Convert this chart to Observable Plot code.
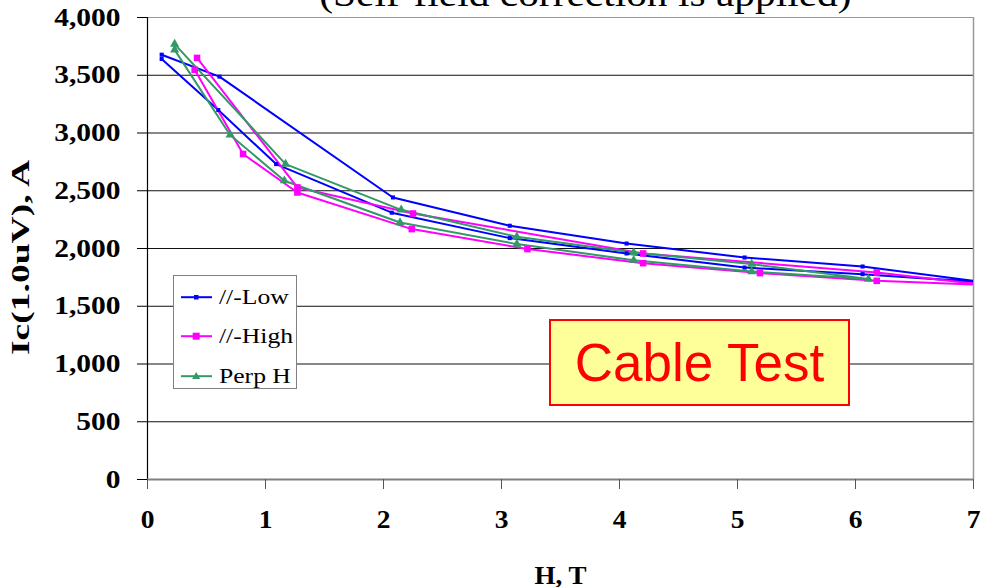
<!DOCTYPE html>
<html>
<head>
<meta charset="utf-8">
<script src="https://cdn.jsdelivr.net/npm/d3@7"></script>
<script src="https://cdn.jsdelivr.net/npm/@observablehq/plot@0.6"></script>
<style>
  html, body { margin: 0; padding: 0; background: #fff; overflow: hidden; }
  #wrap { position: relative; width: 981px; height: 587px; }
  #title { position: absolute; left: 0; width: 981px; top: -24px; text-align: center;
           font-family: "Liberation Serif", "Times New Roman", serif; font-size: 36px; line-height: 36px;
           white-space: nowrap; }
  #title span { display: inline-block; transform: scaleX(1.15); transform-origin: center; margin-left: 190px; }
  #legend { position: absolute; left: 173px; top: 275px; width: 124px; height: 114px;
            border: 1px solid #808080; background: #fff; box-sizing: border-box; }
  .lrow { position: absolute; left: 7px; height: 24px; display: flex; align-items: center; }
  .lrow span { font-family: "Liberation Serif", "Times New Roman", serif; font-size: 21px; margin-left: 7px;
               display: inline-block; transform: scaleX(1.22); transform-origin: left center; white-space: nowrap; }
  #note { position: absolute; left: 549px; top: 319px; width: 301px; height: 87px; box-sizing: border-box;
          background: #FFFF99; border: 2px solid #FF0000; display: flex; align-items: center; justify-content: center;
          font-family: "Liberation Sans", Arial, sans-serif; font-size: 53px; color: #FF0000; }
</style>
</head>
<body>
<div id="wrap">
  <div id="title"><span>(Self-field correction is applied)</span></div>
</div>
<script>
// ---- data ----
const seriesNames = ["//-Low", "//-High", "Perp H"];
const seriesColors = ["#0000FF", "#FF00FF", "#339966"];

// //-Low : field ramped up (lower branch), then down (upper branch)
const lowH  = [0.12, 0.60, 1.09, 2.07, 3.07, 4.06, 5.06, 6.06, 7.10, 6.06, 5.06, 4.06, 3.07, 2.08, 0.61, 0.12];
const lowIc = [3641, 3199, 2731, 2310, 2090, 1957, 1835, 1778, 1706, 1844, 1922, 2043, 2197, 2442, 3488, 3678];

// //-High
const highH  = [0.40, 0.81, 1.27, 2.24, 3.22, 4.20, 5.19, 6.18, 7.10, 6.18, 4.20, 2.25, 1.27, 0.42];
const highIc = [3548, 2818, 2485, 2168, 1995, 1873, 1787, 1720, 1684, 1792, 1957, 2303, 2529, 3650];

// Perp H
const perpH  = [0.23, 0.70, 1.16, 2.14, 3.13, 4.12, 5.12, 6.11, 5.12, 4.12, 3.13, 2.15, 1.17, 0.23];
const perpIc = [3720, 2983, 2587, 2225, 2038, 1899, 1801, 1735, 1865, 1965, 2101, 2335, 2731, 3770];

const xTicks = [0, 1, 2, 3, 4, 5, 6, 7];
const yTicks = [0, 500, 1000, 1500, 2000, 2500, 3000, 3500, 4000];
const xDomain = [0, 7];
const yDomain = [0, 4000];

const rows = [
  ...lowH.map((h, i) => ({series: seriesNames[0], H: h, Ic: lowIc[i]})),
  ...highH.map((h, i) => ({series: seriesNames[1], H: h, Ic: highIc[i]})),
  ...perpH.map((h, i) => ({series: seriesNames[2], H: h, Ic: perpIc[i]}))
];
const bySeries = name => rows.filter(d => d.series === name);

const serif = "'Liberation Serif', 'Times New Roman', serif";

const chart = Plot.plot({
  width: 981,
  height: 587,
  marginLeft: 147,
  marginRight: 8,
  marginTop: 17,
  marginBottom: 108,
  style: {fontFamily: serif, background: "transparent", color: "#000"},
  x: {domain: xDomain},
  y: {domain: yDomain},
  color: {domain: seriesNames, range: seriesColors},
  marks: [
    Plot.ruleY(yTicks.filter(t => t > yDomain[0] && t < yDomain[1]), {stroke: "#111", strokeWidth: 1}),
    Plot.ruleY([yDomain[1]], {stroke: "#999", strokeWidth: 1.2}),
    Plot.ruleX([xDomain[1]], {stroke: "#999", strokeWidth: 1.5}),
    Plot.line(rows, {x: "H", y: "Ic", z: "series", stroke: "series", strokeWidth: 2, clip: true}),
    Plot.dot(bySeries(seriesNames[0]), {x: "H", y: "Ic", fill: seriesColors[0], symbol: "square", r: 2.3, clip: true}),
    Plot.dot(bySeries(seriesNames[1]), {x: "H", y: "Ic", fill: seriesColors[1], symbol: "square", r: 3.7, clip: true}),
    Plot.dot(bySeries(seriesNames[2]), {x: "H", y: "Ic", fill: seriesColors[2], symbol: "triangle", r: 3.4, clip: true}),
    Plot.ruleX([xDomain[0]], {stroke: "#000", strokeWidth: 1.2}),
    Plot.ruleY([yDomain[0]], {stroke: "#808080", strokeWidth: 2}),
    Plot.axisY({ticks: yTicks, tickFormat: d3.format(","), tickSize: 10, tickPadding: 17,
                fontSize: 25, fontWeight: "bold", fontFamily: serif,
                label: "Ic(1.0uV), A", labelAnchor: "center", labelArrow: "none", labelOffset: 136}),
    Plot.axisX({ticks: xTicks, tickFormat: d3.format("d"), tickSize: 10, tickPadding: 21,
                fontSize: 25, fontWeight: "bold", fontFamily: serif, stroke: "#555",
                label: "H, T", labelAnchor: "center", labelArrow: "none", labelOffset: 104})
  ]
});

const wrap = document.getElementById("wrap");
wrap.appendChild(chart);

// horizontal stretch of the serif texts, as in the reference rendering
function stretch(sel, factor, fixed) {
  chart.querySelectorAll(sel).forEach(t => {
    const w = t.getComputedTextLength();
    t.setAttribute("textLength", fixed ?? (w * factor));
    t.setAttribute("lengthAdjust", "spacingAndGlyphs");
  });
}
stretch('g[aria-label="y-axis tick label"] text', 1.18);
stretch('g[aria-label="x-axis tick label"] text', 1.1);
stretch('g[aria-label="y-axis label"] text', 1, 195);
stretch('g[aria-label="x-axis label"] text', 1.08);
// the reference's y label sits slightly below the frame centre
const yl = chart.querySelector('g[aria-label="y-axis label"]');
if (yl) yl.setAttribute("transform", ((yl.getAttribute("transform") || "") + " translate(0,9)").trim());

// legend
const legend = document.createElement("div");
legend.id = "legend";
const rowTops = [9, 48, 88];
const markerSvg = [
  c => `<rect x="13" y="5" width="4.5" height="4.5" fill="${c}"/>`,
  c => `<rect x="11.7" y="3.7" width="7" height="7" fill="${c}"/>`,
  c => `<polygon points="15.2,3 19.2,10 11.2,10" fill="${c}"/>`
];
seriesNames.forEach((name, i) => {
  const r = document.createElement("div");
  r.className = "lrow";
  r.style.top = rowTops[i] + "px";
  r.innerHTML = `<svg width="31" height="14"><line x1="0" y1="7.2" x2="31" y2="7.2" stroke="${seriesColors[i]}" stroke-width="2"/>${markerSvg[i](seriesColors[i])}</svg>`;
  const s = document.createElement("span");
  s.textContent = name;
  r.appendChild(s);
  legend.appendChild(r);
});
wrap.appendChild(legend);

// annotation box
const note = document.createElement("div");
note.id = "note";
note.textContent = "Cable Test";
wrap.appendChild(note);
</script>
</body>
</html>
